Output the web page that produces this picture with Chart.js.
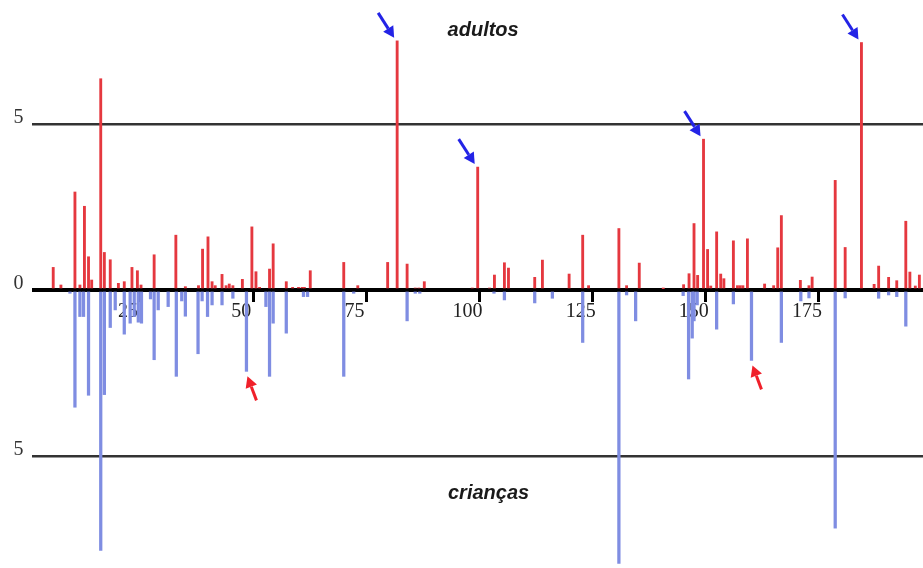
<!DOCTYPE html>
<html>
<head>
<meta charset="utf-8">
<script src="https://cdn.jsdelivr.net/npm/chart.js@4/dist/chart.umd.min.js"></script>
<style>
  body { margin: 0; background: #fff; }
  canvas { display: block; }
</style>
</head>
<body>
<canvas id="profile" width="923" height="568"></canvas>
<script>
// positions along the sequence and peak heights
const adultPos = [5.8, 7.5, 10.6, 11.7, 12.7, 13.6, 14.3, 16.3, 17.1, 18.4, 20.2, 21.5, 23.2, 24.4, 25.2,
  28.1, 32.9, 35.0, 37.9, 38.8, 40.0, 40.9, 41.6, 43.1, 44.0, 44.7, 45.5, 47.6, 49.7, 50.6, 51.4,
  53.6, 54.4, 57.3, 58.7, 60.0, 60.8, 61.3, 62.6, 70.0, 73.1, 79.7, 81.8, 84.0, 85.8, 86.6, 87.8,
  98.4, 99.6, 102.2, 103.3, 105.5, 106.4, 112.2, 113.9, 119.8, 122.8, 124.1, 130.8, 132.5, 135.3,
  140.6, 145.1, 146.3, 147.4, 148.2, 149.5, 150.4, 151.1, 152.4, 153.3, 154.0, 156.1, 157.0, 157.6,
  158.2, 159.2, 163.0, 165.0, 165.9, 166.7, 170.9, 172.8, 173.5, 178.6, 180.8, 184.4, 187.2, 188.2,
  190.4, 192.2, 194.2, 195.1, 196.3, 197.2];
const adultVal = [0.68, 0.15, 2.95, 0.15, 2.52, 1.0, 0.3, 6.36, 1.13, 0.91, 0.2, 0.25, 0.68, 0.58, 0.15,
  1.06, 1.65, 0.1, 0.13, 1.23, 1.6, 0.25, 0.13, 0.47, 0.13, 0.18, 0.13, 0.32, 1.9, 0.55, 0.08,
  0.63, 1.39, 0.25, 0.08, 0.08, 0.08, 0.08, 0.58, 0.83, 0.13, 0.83, 7.5, 0.78, 0.06, 0.06, 0.25,
  0.06, 3.7, 0.06, 0.45, 0.82, 0.66, 0.38, 0.9, 0.48, 1.65, 0.13, 1.85, 0.13, 0.81,
  0.04, 0.16, 0.49, 2.0, 0.44, 4.54, 1.22, 0.12, 1.75, 0.48, 0.34, 1.48, 0.13, 0.13,
  0.13, 1.54, 0.18, 0.13, 1.27, 2.24, 0.29, 0.13, 0.39, 3.3, 1.28, 7.45, 0.17, 0.72,
  0.38, 0.28, 2.07, 0.54, 0.12, 0.45];

const childPos = [9.5, 10.6, 11.7, 12.5, 13.6, 16.3, 17.1, 18.4, 19.5, 21.5, 22.8, 23.7, 24.6, 25.3,
  27.3, 28.1, 29.0, 31.2, 33.0, 34.2, 35.0, 37.8, 38.7, 39.9, 40.9, 43.1, 45.5, 48.5, 52.8, 53.6,
  54.4, 57.3, 61.1, 62.0, 70.0, 72.2, 84.0, 85.8, 86.8, 103.2, 105.5, 112.2, 116.1, 122.8, 130.8,
  132.5, 134.5, 145.0, 146.2, 147.0, 147.4, 148.1, 152.4, 156.1, 160.1, 166.7, 171.0, 172.8, 178.6,
  180.8, 188.2, 190.4, 192.2, 194.2];
const childVal = [0.1, 3.53, 0.8, 0.8, 3.17, 7.84, 3.15, 1.13, 0.6, 1.33, 1.0, 0.8, 0.97, 1.0,
  0.27, 2.1, 0.6, 0.5, 2.6, 0.33, 0.79, 1.92, 0.33, 0.8, 0.45, 0.45, 0.25, 2.45, 0.5, 2.6,
  1.0, 1.3, 0.2, 0.2, 2.6, 0.1, 0.93, 0.1, 0.1, 0.1, 0.3, 0.39, 0.25, 1.58, 8.23,
  0.15, 0.93, 0.17, 2.68, 1.45, 0.93, 0.45, 1.18, 0.42, 2.12, 1.58, 0.33, 0.24, 7.17,
  0.24, 0.25, 0.15, 0.2, 1.09];

const xTicks = [25, 50, 75, 100, 125, 150, 175];
const yTicks = [-5, 0, 5];

// peaks marked with arrows
const adultMarked = [81.8, 99.6, 149.5, 184.4];
const childMarked = [48.5, 160.1];

function drawArrow(ctx, x1, y1, x2, y2, color) {
  const ang = Math.atan2(y2 - y1, x2 - x1);
  const head = 11, hw = 6;
  const bx = x2 - head * Math.cos(ang), by = y2 - head * Math.sin(ang);
  ctx.strokeStyle = color;
  ctx.fillStyle = color;
  ctx.lineWidth = 3;
  ctx.beginPath();
  ctx.moveTo(x1, y1);
  ctx.lineTo(bx, by);
  ctx.stroke();
  ctx.beginPath();
  ctx.moveTo(x2, y2);
  ctx.lineTo(bx + hw * Math.sin(ang), by - hw * Math.cos(ang));
  ctx.lineTo(bx - hw * Math.sin(ang), by + hw * Math.cos(ang));
  ctx.closePath();
  ctx.fill();
}

const labelsAndArrows = {
  id: 'labelsAndArrows',
  afterDatasetsDraw(chart) {
    const { ctx, scales: { x, y } } = chart;
    ctx.save();
    ctx.fillStyle = '#1a1a1a';
    ctx.font = 'italic bold 20px "Liberation Sans", Arial, sans-serif';
    ctx.textAlign = 'center';
    ctx.textBaseline = 'alphabetic';
    ctx.fillText('adultos', x.getPixelForValue(100.8), y.getPixelForValue(7.65));
    ctx.fillText('crianças', x.getPixelForValue(102), y.getPixelForValue(-6.3));

    adultMarked.forEach(p => {
      const v = adultVal[adultPos.indexOf(p)];
      const tx = x.getPixelForValue(p) - 3, ty = y.getPixelForValue(v) - 3;
      drawArrow(ctx, tx - 16, ty - 25, tx, ty, '#2323e6');
    });
    childMarked.forEach(p => {
      const v = childVal[childPos.indexOf(p)];
      const tx = x.getPixelForValue(p) + 1, ty = y.getPixelForValue(-v) + 5;
      drawArrow(ctx, tx + 9, ty + 24, tx, ty, '#f0202a');
    });
    ctx.restore();
  }
};

new Chart(document.getElementById('profile').getContext('2d'), {
  type: 'bar',
  data: {
    datasets: [
      {
        label: 'adultos',
        data: adultPos.map((p, i) => ({ x: p, y: adultVal[i] })),
        backgroundColor: '#e5383f',
        barThickness: 2.2,
        grouped: false,
        clip: false
      },
      {
        label: 'crianças',
        data: childPos.map((p, i) => ({ x: p, y: -childVal[i] })),
        backgroundColor: '#7f8de2',
        barThickness: 2.6,
        grouped: false,
        clip: false
      }
    ]
  },
  options: {
    responsive: false,
    animation: false,
    devicePixelRatio: 1,
    layout: { padding: 0 },
    plugins: {
      legend: { display: false },
      tooltip: { enabled: false }
    },
    scales: {
      x: {
        type: 'linear',
        position: { y: 0 },
        offset: false,
        min: 1,
        max: 198,
        afterBuildTicks: scale => { scale.ticks = xTicks.map(v => ({ value: v })); },
        afterFit: scale => { scale.paddingLeft = 0; scale.paddingRight = 0; },
        border: { display: false },
        grid: {
          offset: false,
          drawOnChartArea: false,
          drawTicks: true,
          tickLength: 12,
          tickWidth: 3,
          tickColor: '#000'
        },
        ticks: {
          color: '#222',
          font: { family: '"Liberation Serif", "Times New Roman", serif', size: 20 },
          labelOffset: -12,
          padding: -2,
          maxRotation: 0
        }
      },
      y: {
        min: -8.37,
        max: 8.73,
        afterBuildTicks: scale => { scale.ticks = yTicks.map(v => ({ value: v })); },
        afterFit: scale => {
          scale.width = 31.5;
          scale.paddingTop = 0;
          scale.paddingBottom = 0;
        },
        border: { display: false },
        grid: {
          drawTicks: false,
          color: ctx => ctx.tick && ctx.tick.value === 0 ? '#000' : '#333',
          lineWidth: ctx => ctx.tick && ctx.tick.value === 0 ? 4 : 2.5
        },
        ticks: {
          color: '#333',
          font: { family: '"Liberation Serif", "Times New Roman", serif', size: 20 },
          padding: 8,
          labelOffset: -6,
          callback: v => String(Math.abs(v))
        }
      }
    }
  },
  plugins: [labelsAndArrows]
});
</script>
</body>
</html>
